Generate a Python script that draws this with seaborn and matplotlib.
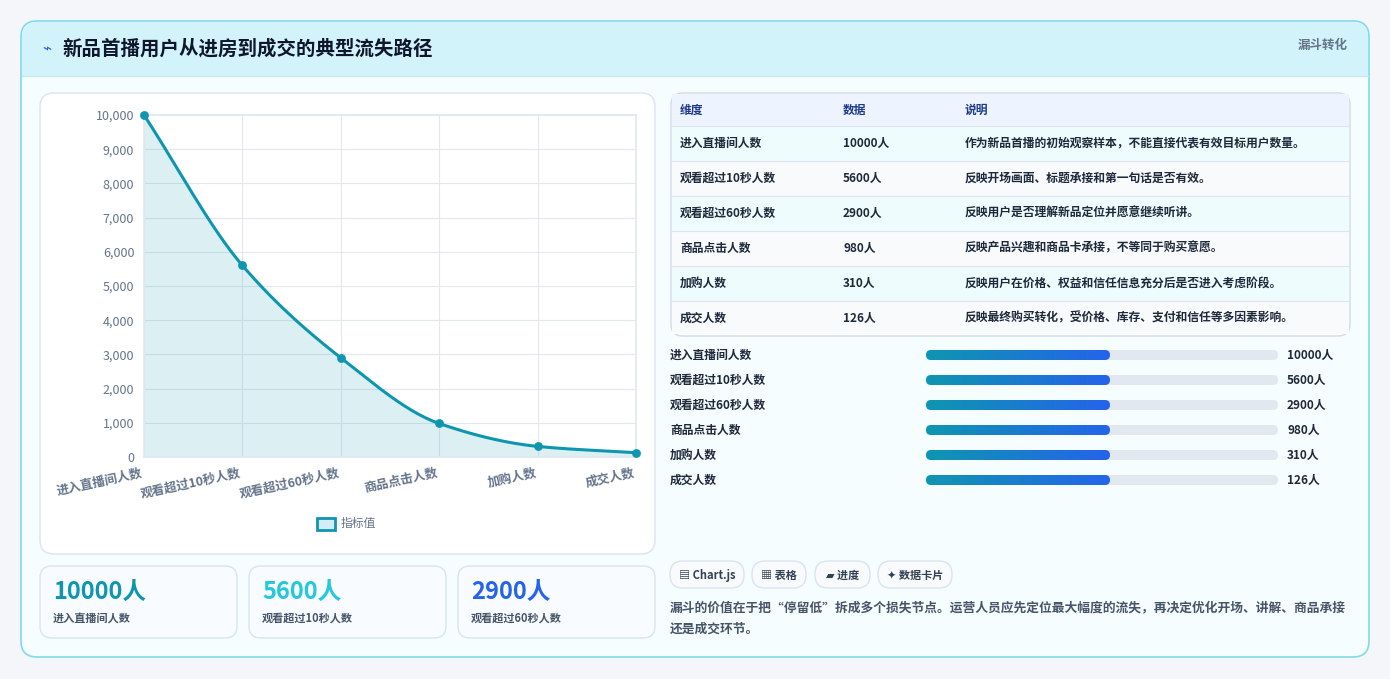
import numpy as np
import pandas as pd
import matplotlib
matplotlib.use("Agg")
import matplotlib.pyplot as plt
import seaborn as sns
from matplotlib.patches import FancyBboxPatch

sns.set_theme(style="white")
plt.rcParams['font.family'] = ['Noto Sans CJK SC', 'DejaVu Sans']

stages = ["进入直播间人数", "观看超过10秒人数", "观看超过60秒人数", "商品点击人数", "加购人数", "成交人数"]
values = [10000, 5600, 2900, 980, 310, 126]
notes = ["作为新品首播的初始观察样本，不能直接代表有效目标用户数量。",
         "反映开场画面、标题承接和第一句话是否有效。",
         "反映用户是否理解新品定位并愿意继续听讲。",
         "反映产品兴趣和商品卡承接，不等同于购买意愿。",
         "反映用户在价格、权益和信任信息充分后是否进入考虑阶段。",
         "反映最终购买转化，受价格、库存、支付和信任等多因素影响。"]
yticks = list(range(0, 10001, 1000))

W, H = 1390, 679
fig = plt.figure(figsize=(W/100, H/100), dpi=100)
fig.patch.set_facecolor("#f4f6f9")
bg = fig.add_axes([0, 0, 1, 1])
bg.set_xlim(0, W); bg.set_ylim(H, 0); bg.axis("off")

def rbox(x, y, w, h, fc, ec, r=12, lw=1, z=1):
    bg.add_patch(FancyBboxPatch((x, y), w, h, boxstyle=f"round,pad=0,rounding_size={r}",
                                fc=fc, ec=ec, lw=lw, zorder=z))

rbox(21, 21, 1348, 636, "#f5fdff", "#7fdbea", r=16, lw=1.2)
bg.add_patch(FancyBboxPatch((22, 22), 1346, 54, boxstyle="round,pad=0,rounding_size=15", fc="#d3f3fb", ec="none", zorder=1.5))
bg.add_patch(plt.Rectangle((22, 60), 1346, 16, fc="#d3f3fb", ec="none", zorder=1.5))
bg.plot([22, 1368], [76, 76], color="#c6e8f0", lw=1, zorder=1.6)
bg.text(42, 49, "⌁", fontsize=11, color="#2563eb", va="center", zorder=3, family=['DejaVu Sans'])
bg.text(62, 49, "新品首播用户从进房到成交的典型流失路径", fontsize=14, weight="bold", color="#0f172a", va="center", zorder=3)
bg.text(1348, 45, "漏斗转化", fontsize=9, weight="bold", color="#64748b", va="center", ha="right", zorder=3)

rbox(40, 93, 615, 461, "white", "#dbe4ee", r=14)
rbox(671, 93, 679, 243, "white", "#cfdbe6", r=12)
bg.add_patch(plt.Rectangle((672, 94), 677, 32, fc="#eef4ff", ec="none", zorder=1.2))
bg.text(680, 110, "维度", fontsize=8.5, weight="bold", color="#1e3a8a", va="center", zorder=3)
bg.text(843, 110, "数据", fontsize=8.5, weight="bold", color="#1e3a8a", va="center", zorder=3)
bg.text(965, 110, "说明", fontsize=8.5, weight="bold", color="#1e3a8a", va="center", zorder=3)
for i, (s, v, n) in enumerate(zip(stages, values, notes)):
    y0 = 126 + i*35
    fc = "#effcfd" if i % 2 == 0 else "#f8fafc"
    bg.add_patch(plt.Rectangle((672, y0), 677, 35 if i < 5 else 33, fc=fc, ec="none", zorder=1.2))
    bg.plot([672, 1349], [y0, y0], color="#dde6ee", lw=0.8, zorder=1.3)
    yc = y0 + 17.5
    bg.text(680, yc, s, fontsize=8.5, weight="bold", color="#1e293b", va="center", zorder=3)
    bg.text(843, yc, f"{v}人", fontsize=8.5, weight="bold", color="#1e293b", va="center", zorder=3)
    bg.text(965, yc, n, fontsize=8.5, weight="bold", color="#1e293b", va="center", zorder=3)

grad = np.linspace(0, 1, 256).reshape(1, -1)
cmap = matplotlib.colors.LinearSegmentedColormap.from_list("g", ["#0e96b0", "#2563eb"])
for i, (s, v) in enumerate(zip(stages, values)):
    yc = 355 + i*25
    bg.text(670, yc, s, fontsize=8.5, weight="bold", color="#1e293b", va="center", zorder=3)
    bg.add_patch(FancyBboxPatch((926, yc-5), 352, 10, boxstyle="round,pad=0,rounding_size=5", fc="#e2e8f0", ec="none", zorder=2))
    clip = FancyBboxPatch((926, yc-5), 184, 10, boxstyle="round,pad=0,rounding_size=5", fc="none", ec="none", transform=bg.transData)
    im = bg.imshow(grad, extent=(926, 1110, yc+5, yc-5), cmap=cmap, aspect="auto", zorder=2.5)
    im.set_clip_path(clip)
    bg.text(1287, yc, f"{v}人", fontsize=8.5, weight="bold", color="#1e293b", va="center", zorder=3)
bg.set_xlim(0, W); bg.set_ylim(H, 0)

for x, w, t in [(670, 74, "▤ Chart.js"), (752, 54, "▦ 表格"), (815, 55, "▰ 进度"), (878, 74, "✦ 数据卡片")]:
    rbox(x, 561, w, 27, "#f8fafc", "#dbe4ee", r=13)
    bg.text(x + w/2, 575, t, fontsize=8, weight="bold", color="#334155", ha="center", va="center", zorder=3,
            family=['Noto Sans CJK SC', 'DejaVu Sans'])
bg.text(670, 608, "漏斗的价值在于把“停留低”拆成多个损失节点。运营人员应先定位最大幅度的流失，再决定优化开场、讲解、商品承接",
        fontsize=9.2, color="#475569", weight="bold", va="center", zorder=3)
bg.text(670, 629, "还是成交环节。", fontsize=9.2, color="#475569", weight="bold", va="center", zorder=3)

for x, v, s, c in [(40, values[0], stages[0], "#0e96b0"), (249, values[1], stages[1], "#22c8e0"), (458, values[2], stages[2], "#2563eb")]:
    rbox(x, 566, 197, 72, "#f8fbff", "#dbe4ee", r=12)
    bg.text(x+13, 592, f"{v}人", fontsize=17, weight="bold", color=c, va="center", zorder=3)
    bg.text(x+13, 618, s, fontsize=8, weight="bold", color="#475569", va="center", zorder=3)

ax = fig.add_axes([144/W, 1-457/H, (636-144)/W, (457-115)/H])
ax.set_zorder(5)
x = np.arange(len(values))
yv = np.array(values, float)
d = np.diff(yv)
m = np.zeros_like(yv)
m[0], m[-1] = d[0], d[-1]
for i in range(1, len(yv)-1):
    m[i] = 0 if d[i-1]*d[i] <= 0 else 2/(1/d[i-1] + 1/d[i])
xs, ys = [], []
for i in range(len(yv)-1):
    t = np.linspace(0, 1, 40)
    h00 = 2*t**3-3*t**2+1; h10 = t**3-2*t**2+t; h01 = -2*t**3+3*t**2; h11 = t**3-t**2
    xs.extend(i+t); ys.extend(h00*yv[i]+h10*m[i]+h01*yv[i+1]+h11*m[i+1])
smooth = pd.DataFrame({"x": xs, "y": ys})
ax.fill_between(smooth.x, smooth.y, color="#0e96b0", alpha=0.14, lw=0)
sns.lineplot(data=smooth, x="x", y="y", ax=ax, color="#0e96b0", lw=2.2)
sns.scatterplot(x=x, y=yv, ax=ax, color="#0e96b0", s=34, edgecolor="#0e96b0", zorder=6, clip_on=False)
ax.set_xlim(0, 5); ax.set_ylim(0, 10000)
ax.set_yticks(yticks)
ax.set_yticklabels([f"{v:,}" for v in yticks], fontsize=9, color="#64748b")
ax.set_xticks(x)
ax.set_xticklabels(stages, rotation=12, ha="right", fontsize=9, weight="bold", color="#64748b")
ax.tick_params(axis="both", length=4, color="#e2e8f0", pad=3)
ax.grid(True, color="#e2e8f0", lw=0.8)
ax.set_xlabel(""); ax.set_ylabel("")
ax.set_facecolor("none")
for sp in ax.spines.values():
    sp.set_color("#e2e8f0")
bg.add_patch(plt.Rectangle((317, 518), 18, 12, fc="#d2eef4", ec="#0e96b0", lw=2, zorder=3))
bg.text(341, 524, "指标值", fontsize=8.5, color="#64748b", va="center", zorder=3)

fig.savefig("out.png", dpi=100, facecolor=fig.get_facecolor())
